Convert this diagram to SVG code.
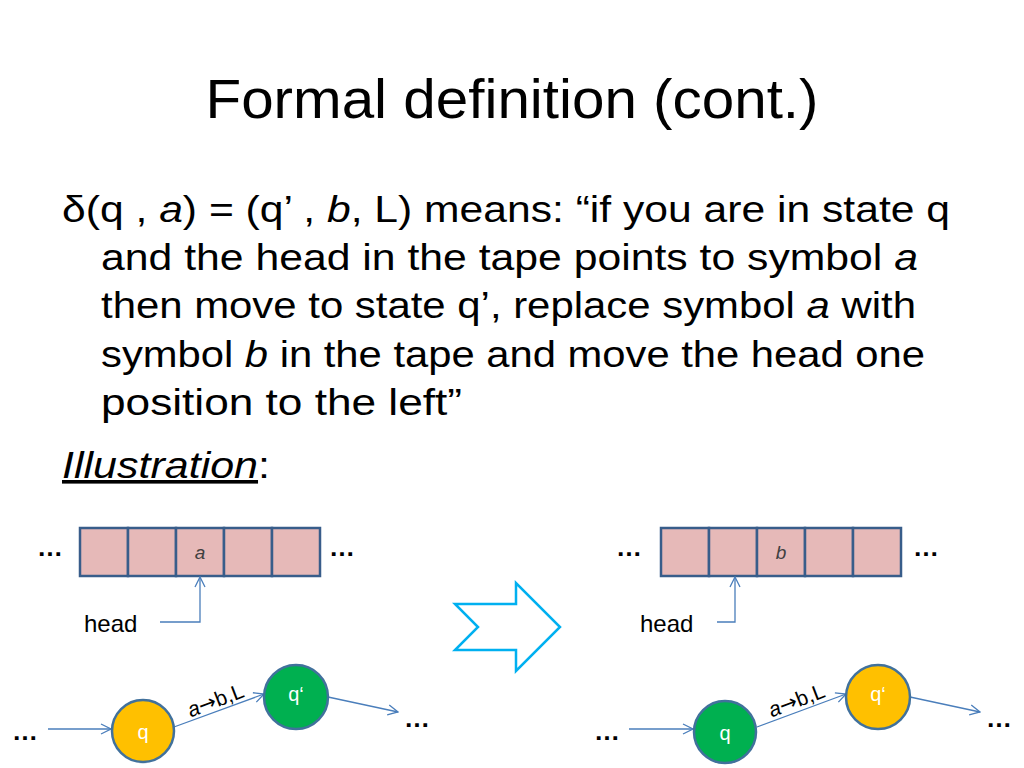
<svg xmlns="http://www.w3.org/2000/svg" width="1024" height="768" viewBox="0 0 1024 768">
<defs>
<style>
.t{font-family:"Liberation Sans",Arial,sans-serif;fill:#000}
.title{font-size:56px}
.body{font-size:36px}
.cell{fill:#E6B9B8;stroke:#385D8A;stroke-width:2.5}
.st{stroke:#41719C;stroke-width:2.5}
.conn{fill:none;stroke:#4A7EBB;stroke-width:1.3}
.dots{font-family:"Liberation Sans",Arial,sans-serif;font-size:26px;font-weight:bold;fill:#000}
.lbl{font-family:"Liberation Sans",Arial,sans-serif;font-size:20px;fill:#fff;text-anchor:middle}
.elbl{font-family:"Liberation Sans",Arial,sans-serif;font-size:21px;fill:#000;text-anchor:middle}
.arw{font-family:"DejaVu Sans",sans-serif;font-size:21px}
.head{font-family:"Liberation Sans",Arial,sans-serif;font-size:24px;fill:#000}
.sym{font-family:"Liberation Sans",Arial,sans-serif;font-size:19px;font-style:italic;fill:#404040;text-anchor:middle}
</style>
<marker id="arr" viewBox="0 0 12 12" refX="11" refY="6" markerWidth="12" markerHeight="12" markerUnits="userSpaceOnUse" orient="auto">
<path d="M1,1 L11,6 L1,11" fill="none" stroke="#4A7EBB" stroke-width="1.3"/>
</marker>
</defs>
<rect width="1024" height="768" fill="#fff"/>

<text class="t title" x="512" y="118" text-anchor="middle" textLength="613" lengthAdjust="spacingAndGlyphs">Formal definition (cont.)</text>

<g id="body">
<text class="t body" x="62" y="222" textLength="888" lengthAdjust="spacingAndGlyphs">δ(q , <tspan font-style="italic">a</tspan>) = (q’ , <tspan font-style="italic">b</tspan>, L) means: “if you are in state q</text>
<text class="t body" x="101" y="270" textLength="817" lengthAdjust="spacingAndGlyphs">and the head in the tape points to symbol <tspan font-style="italic">a</tspan></text>
<text class="t body" x="101" y="318" textLength="815" lengthAdjust="spacingAndGlyphs">then move to state q’, replace symbol <tspan font-style="italic">a</tspan> with</text>
<text class="t body" x="101" y="367" textLength="824" lengthAdjust="spacingAndGlyphs">symbol <tspan font-style="italic">b</tspan> in the tape and move the head one</text>
<text class="t body" x="101" y="415" textLength="361" lengthAdjust="spacingAndGlyphs">position to the left”</text>
<text class="t body" x="62" y="478" textLength="208" lengthAdjust="spacingAndGlyphs"><tspan font-style="italic" text-decoration="underline">Illustration</tspan>:</text>
</g>

<g id="tape-left">
<rect class="cell" x="80" y="528" width="48" height="48"/>
<rect class="cell" x="128" y="528" width="48" height="48"/>
<rect class="cell" x="176" y="528" width="48" height="48"/>
<rect class="cell" x="224" y="528" width="48" height="48"/>
<rect class="cell" x="272" y="528" width="48" height="48"/>
<text class="sym" x="200" y="559">a</text>
<text class="dots" x="37" y="556">…</text>
<text class="dots" x="329" y="556">…</text>
<text class="head" x="84" y="632">head</text>
</g>

<g id="tape-right">
<rect class="cell" x="661" y="528" width="48" height="48"/>
<rect class="cell" x="709" y="528" width="48" height="48"/>
<rect class="cell" x="757" y="528" width="48" height="48"/>
<rect class="cell" x="805" y="528" width="48" height="48"/>
<rect class="cell" x="853" y="528" width="48" height="48"/>
<text class="sym" x="781" y="559">b</text>
<text class="dots" x="616" y="556">…</text>
<text class="dots" x="913" y="556">…</text>
<text class="head" x="640" y="632">head</text>
</g>

<g id="big-arrow">
<polygon points="455,604 516,604 516,583 560,627 516,671 516,650 455,650 478,627" fill="#fff" stroke="#00B0F0" stroke-width="2.5" stroke-linejoin="miter"/>
</g>

<g id="connectors">
<polyline class="conn" points="160,622 200,622 200,577" marker-end="url(#arr)"/>
<polyline class="conn" points="717,622 735,622 735,577" marker-end="url(#arr)"/>
<line class="conn" x1="48" y1="729" x2="111" y2="729" marker-end="url(#arr)"/>
<line class="conn" x1="174" y1="727" x2="264" y2="694" marker-end="url(#arr)"/>
<line class="conn" x1="328" y1="697" x2="398" y2="712" marker-end="url(#arr)"/>
<line class="conn" x1="629" y1="729" x2="693" y2="729" marker-end="url(#arr)"/>
<line class="conn" x1="757" y1="727" x2="846" y2="694" marker-end="url(#arr)"/>
<line class="conn" x1="910" y1="697" x2="980" y2="712" marker-end="url(#arr)"/>
<text class="elbl" transform="translate(218,707) rotate(-21)"><tspan font-style="italic">a</tspan><tspan class="arw">→</tspan>b,L</text>
<text class="elbl" transform="translate(799,707) rotate(-21)"><tspan font-style="italic">a</tspan><tspan class="arw">→</tspan>b,L</text>
</g>

<g id="state-q-left">
<circle class="st" cx="143" cy="731" r="31" fill="#FFC000"/>
<text class="lbl" x="143" y="739">q</text>
</g>
<g id="state-q2-left">
<circle class="st" cx="296" cy="697" r="32" fill="#00B050"/>
<text class="lbl" x="296" y="701">q‘</text>
</g>
<g id="state-q-right">
<circle class="st" cx="725" cy="732" r="31" fill="#00B050"/>
<text class="lbl" x="725" y="740">q</text>
</g>
<g id="state-q2-right">
<circle class="st" cx="878" cy="697" r="32" fill="#FFC000"/>
<text class="lbl" x="878" y="701">q‘</text>
</g>

<g id="dots-states">
<text class="dots" x="12" y="740">…</text>
<text class="dots" x="404" y="727">…</text>
<text class="dots" x="594" y="740">…</text>
<text class="dots" x="986" y="727">…</text>
</g>
</svg>
